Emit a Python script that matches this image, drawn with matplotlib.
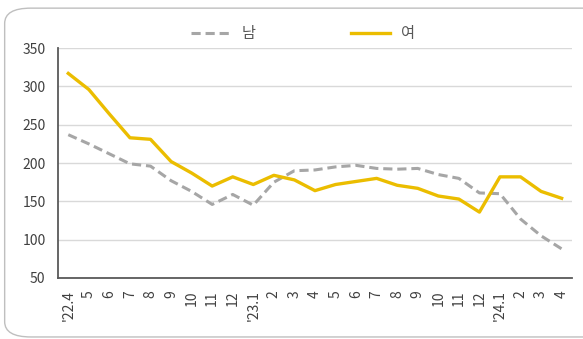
import matplotlib.pyplot as plt
from matplotlib.patches import FancyBboxPatch

plt.rcParams['font.family'] = ['Noto Sans CJK KR', 'DejaVu Sans']

# data
months = ["'22.4", "5", "6", "7", "8", "9", "10", "11", "12",
          "'23.1", "2", "3", "4", "5", "6", "7", "8", "9", "10", "11", "12",
          "'24.1", "2", "3", "4"]
male = [237, 225, 212, 199, 196, 177, 163, 146, 159, 145, 175, 190, 191, 195, 197,
        193, 192, 193, 185, 180, 161, 160, 127, 105, 88]
female = [317, 296, 264, 233, 231, 202, 187, 170, 182, 172, 184, 178, 164, 172, 176,
          180, 171, 167, 157, 153, 136, 182, 182, 163, 154]
yticks = [50, 100, 150, 200, 250, 300, 350]

fig = plt.figure(figsize=(5.83, 3.39), dpi=100)

# rounded frame around the chart
frame = FancyBboxPatch((0.008, 0.006), 1.05, 0.97, boxstyle="round,pad=0,rounding_size=0.045",
                       transform=fig.transFigure, fill=False, edgecolor='#bfbfbf', lw=1.0)
fig.patches.append(frame)

ax = fig.add_axes([0.0995, 0.180, 0.8815, 0.678])
x = list(range(len(months)))
ax.plot(x, male, color='#a6a6a6', lw=2.2, ls=(0, (3, 1.6)), label='남')
ax.plot(x, female, color='#ebbd00', lw=2.4, label='여')

ax.set_xlim(-0.5, 24.5)
ax.set_ylim(50, 350)
ax.set_yticks(yticks)
ax.set_xticks(x)
ax.set_xticklabels(months, rotation=90)
ax.tick_params(axis='both', length=0, labelsize=10, colors='#404040')
ax.tick_params(axis='y', pad=9)
ax.tick_params(axis='x', pad=9)
ax.grid(axis='y', color='#d9d9d9', lw=1)
ax.set_axisbelow(True)
for s in ['top', 'right']:
    ax.spines[s].set_visible(False)
for s in ['left', 'bottom']:
    ax.spines[s].set_color('#595959')
    ax.spines[s].set_linewidth(1.3)

leg = fig.legend(loc='center', bbox_to_anchor=(0.52, 0.90), ncol=2, frameon=False,
                 fontsize=11, handlelength=2.6, columnspacing=6.2, handletextpad=0.7)
for t in leg.get_texts():
    t.set_color('#595959')

fig.savefig('out.png', dpi=100)
